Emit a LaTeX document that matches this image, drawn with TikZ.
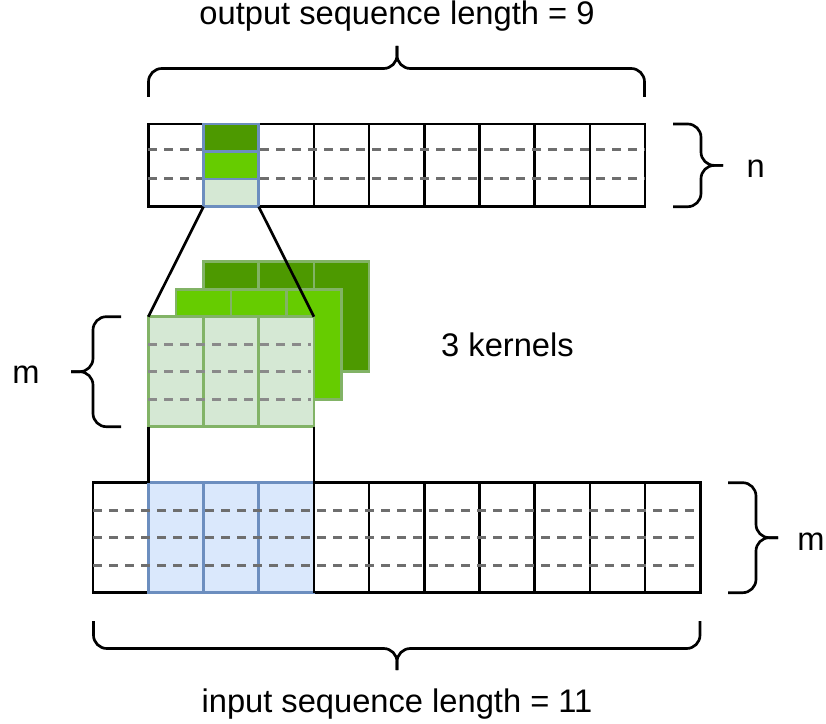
\documentclass[tikz,border=0pt]{standalone}
\usepackage{fontspec}
\setmainfont{Liberation Sans}
\usetikzlibrary{calc}
\definecolor{darkleaf}{HTML}{4D9900}
\definecolor{brightleaf}{HTML}{66CC00}
\definecolor{paleleaf}{HTML}{D5E8D4}
\definecolor{leafline}{HTML}{82B366}
\definecolor{palesky}{HTML}{DAE8FC}
\definecolor{skyline}{HTML}{6C8EBF}
\definecolor{rowdash}{HTML}{6E6E6E}
\definecolor{kerndash}{HTML}{8A8A8A}
\begin{document}
\begin{tikzpicture}[x=0.75pt,y=-0.75pt,
  cellbox/.style={draw, line width=2pt, inner sep=0pt, outer sep=0pt, rectangle},
  rowbox/.style={cellbox, draw=black, fill=white, minimum height=82.5pt},
  kernbox/.style={cellbox, draw=leafline, minimum width=124.2pt, minimum height=82.5pt},
  winbox/.style={cellbox, draw=skyline, fill=palesky, minimum width=124.2pt, minimum height=82.5pt},
  slot/.style={cellbox, draw=skyline, minimum width=41.4pt, minimum height=20.7pt},
  griddash/.style={line width=2pt, dash pattern=on 6.75pt off 5.25pt},
  link/.style={line width=2pt, black},
  kernsplit/.style={line width=2pt, leafline},
  winsplit/.style={line width=2pt, skyline},
  bracepath/.style={line width=2pt, rounded corners=10pt},
  lbl/.style={inner sep=0pt, font=\fontsize{24.5pt}{29pt}\selectfont}]
\useasboundingbox (0,0) rectangle (826,724);

% ---- output sequence (9 positions) ----
\node[rowbox, minimum width=372.6pt, minimum height=62pt] (outrow) at (396.7,165.35) {};
\foreach \j in {1,...,8}
  \draw[link] ($(outrow.north west)+(\j*55.2,0)$) -- ($(outrow.south west)+(\j*55.2,0)$);
\foreach \yy in {149.5,178.5}
  \draw[griddash, rowdash] (148.3,\yy) -- (645.1,\yy);
% one output position, n channels
\node[slot, fill=darkleaf]   (o1) at (231.1,137.8) {};
\node[slot, fill=brightleaf] (o2) at (231.1,165.35) {};
\node[slot, fill=paleleaf]   (o3) at (231.1,192.9) {};

% ---- three kernels, back to front ----
\node[kernbox, fill=darkleaf] (k3) at (286.35,316.7) {};
\foreach \j in {1,2}
  \draw[kernsplit] ($(k3.north west)+(\j*55.2,0)$) -- ($(k3.south west)+(\j*55.2,0)$);
\node[kernbox, fill=brightleaf] (k2) at (258.75,344.2) {};
\foreach \j in {1,2}
  \draw[kernsplit] ($(k2.north west)+(\j*55.2,0)$) -- ($(k2.south west)+(\j*55.2,0)$);
\node[kernbox, fill=paleleaf] (k1) at (231.15,371.7) {};
\foreach \j in {1,2}
  \draw[kernsplit] ($(k1.north west)+(\j*55.2,0)$) -- ($(k1.south west)+(\j*55.2,0)$);
\foreach \yy in {344.2,371.7,399.2}
  \draw[griddash, kerndash] (148.3,\yy) -- (311,\yy);

% ---- input sequence (11 positions) ----
\node[rowbox, minimum width=455.4pt] (inrow) at (396.7,537.7) {};
\node[winbox] (inwin) at (231.15,537.7) {};
\foreach \j in {1,2}
  \draw[winsplit] ($(inwin.north west)+(\j*55.2,0)$) -- ($(inwin.south west)+(\j*55.2,0)$);
\foreach \j in {4,...,10}
  \draw[link] ($(inrow.north west)+(\j*55.2,0)$) -- ($(inrow.south west)+(\j*55.2,0)$);
\draw[winsplit] (inwin.north west) -- (inwin.south west);
\foreach \yy in {510.2,537.7,565.2}
  \draw[griddash, rowdash] (93.1,\yy) -- (700.3,\yy);

% ---- projection lines ----
\draw[link] (o3.south west) -- (k1.north west);
\draw[link] (o3.south east) -- (k1.north east);
\draw[link] (k1.south west) -- (inwin.north west);
\draw[link] (k1.south east) -- (inwin.north east);

% ---- braces ----
\draw[bracepath] (148.5,97) -- (148.5,68.5) -- (397,68.5) -- (397,46);
\draw[bracepath] (644.5,97) -- (644.5,68.5) -- (397,68.5) -- (397,46);
\draw[bracepath] (93.5,621) -- (93.5,648.5) -- (397,648.5) -- (397,670);
\draw[bracepath] (700,621) -- (700,648.5) -- (397,648.5) -- (397,670);
\draw[bracepath] (673,124) -- (701,124) -- (701,165.4) -- (723,165.4);
\draw[bracepath] (673,206.7) -- (701,206.7) -- (701,165.4) -- (723,165.4);
\draw[bracepath] (121,316.7) -- (93,316.7) -- (93,371.7) -- (71,371.7);
\draw[bracepath] (121,426.7) -- (93,426.7) -- (93,371.7) -- (71,371.7);
\draw[bracepath] (728,482.7) -- (756,482.7) -- (756,537.7) -- (778,537.7);
\draw[bracepath] (728,592.7) -- (756,592.7) -- (756,537.7) -- (778,537.7);

% ---- labels ----
\node[lbl, anchor=base] (outlen) at (397,25) {output sequence length = 9};
\node[lbl, anchor=base] (inlen)  at (397,712) {input sequence length = 11};
\node[lbl, anchor=base] (nkern)  at (507.5,356) {3 kernels};
\node[lbl, anchor=base] (nlbl)   at (755.6,178) {n};
\node[lbl, anchor=base] (mleft)  at (26,383) {m};
\node[lbl, anchor=base] (mright) at (811,550) {m};
\end{tikzpicture}
\end{document}
